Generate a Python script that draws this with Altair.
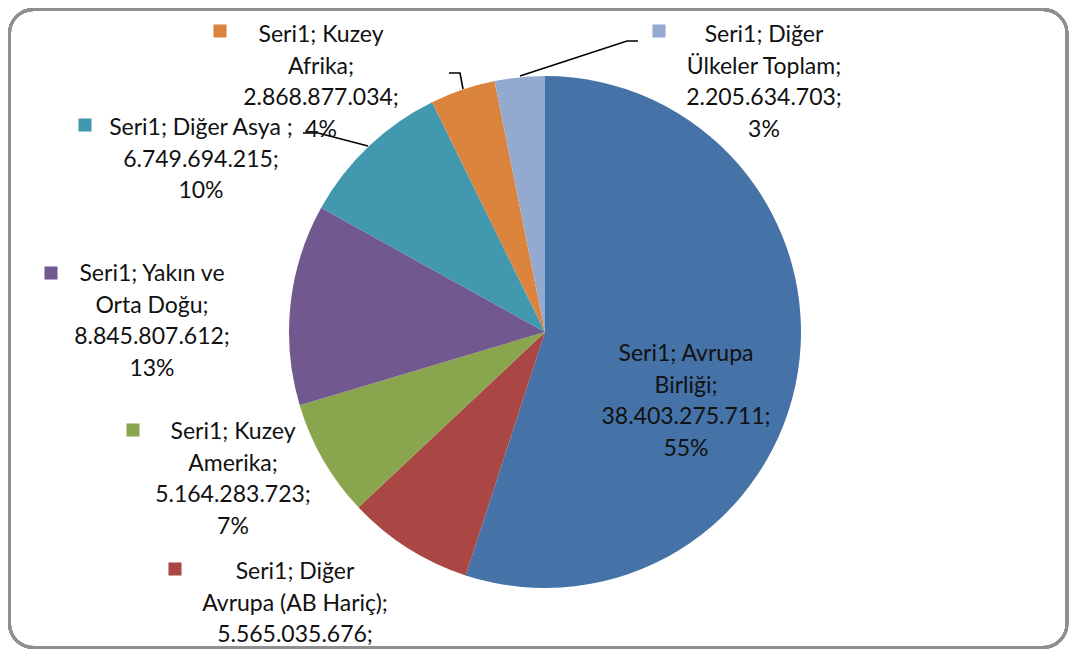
import altair as alt
import pandas as pd

# ---- data ----
regions = ["Avrupa Birliği", "Diğer Avrupa (AB Hariç)", "Kuzey Amerika",
           "Yakın ve Orta Doğu", "Diğer Asya ", "Kuzey Afrika", "Diğer Ülkeler Toplam"]
values = [38403275711, 5565035676, 5164283723, 8845807612, 6749694215, 2868877034, 2205634703]
percents = ["55%", "8%", "7%", "13%", "10%", "4%", "3%"]
colors = ["#4572A7", "#AA4643", "#89A54E", "#71588F", "#4198AF", "#DB843D", "#93A9CF"]
series_name = "Seri1"
# how the category part of each label wraps in the picture
name_lines = [["Seri1; Avrupa", "Birliği;"],
              ["Seri1; Diğer", "Avrupa (AB Hariç);"],
              ["Seri1; Kuzey", "Amerika;"],
              ["Seri1; Yakın ve", "Orta Doğu;"],
              ["Seri1; Diğer Asya ;"],
              ["Seri1; Kuzey", "Afrika;"],
              ["Seri1; Diğer", "Ülkeler Toplam;"]]

# ---- layout (reference pixel coordinates) ----
W, H = 1061, 641
pie_cx, pie_cy, pie_r = 545, 332, 256
label_cx = [686, 295, 233, 152, 201, 321, 764]
label_y0 = [354, 572, 432, 274, 128, 35, 35]
line_step = 31.5
key_pos = [None, (175, 569), (133, 430), (51, 273), (85, 125), (220, 31), (659, 31)]
leaders = {
    "Diğer Ülkeler Toplam": [(520, 76), (627, 41), (638, 41)],
    "Kuzey Afrika": [(463, 89), (460, 73), (449, 73)],
    "Diğer Asya ": [(368, 146), (318, 133), (303, 133)],
}

def fmt(v):
    return f"{v:,}".replace(",", ".")

pie_df = pd.DataFrame({"region": regions, "value": values, "idx": list(range(len(regions)))})

rows = []
for i, r in enumerate(regions):
    lines = name_lines[i] + [fmt(values[i]) + ";", percents[i]]
    for j, t in enumerate(lines):
        rows.append({"region": r, "text": t, "x": label_cx[i], "y": label_y0[i] + j * line_step})
text_df = pd.DataFrame(rows)

key_df = pd.DataFrame([{"region": r, "x": key_pos[i][0], "y": key_pos[i][1]}
                       for i, r in enumerate(regions) if key_pos[i] is not None])

lead_rows = []
for r, pts in leaders.items():
    for k, (px, py) in enumerate(pts):
        lead_rows.append({"region": r, "k": k, "x": px, "y": py})
lead_df = pd.DataFrame(lead_rows)

xs = alt.Scale(domain=[8, 8 + W], range=[0, W])
ys = alt.Scale(domain=[8, 8 + H], range=[0, H])
cs = alt.Scale(domain=regions, range=colors)

pie = alt.Chart(pie_df).mark_arc(radius=pie_r).encode(
    theta=alt.Theta("value:Q", stack=True),
    order=alt.Order("idx:Q"),
    color=alt.Color("region:N", scale=cs, legend=None),
    x=alt.value(pie_cx - 8),
    y=alt.value(pie_cy - 8),
)

leader = alt.Chart(lead_df).mark_line(color="#000000", strokeWidth=1.6).encode(
    x=alt.X("x:Q", scale=xs, axis=None),
    y=alt.Y("y:Q", scale=ys, axis=None),
    detail="region:N",
    order="k:Q",
)

keys = alt.Chart(key_df).mark_square(size=170, opacity=1).encode(
    x=alt.X("x:Q", scale=xs, axis=None),
    y=alt.Y("y:Q", scale=ys, axis=None),
    color=alt.Color("region:N", scale=cs, legend=None),
)

texts = alt.Chart(text_df).mark_text(font="Lato", fontSize=23, color="#111111",
                                      align="center", baseline="middle").encode(
    x=alt.X("x:Q", scale=xs, axis=None),
    y=alt.Y("y:Q", scale=ys, axis=None),
    text="text:N",
)

border = alt.Chart(pie_df).mark_rect(cornerRadius=24, fillOpacity=0, stroke="#8f8f8f",
                                     strokeWidth=2.8).encode(
    x=alt.value(1.5), x2=alt.value(W - 2), y=alt.value(1.5), y2=alt.value(H - 1.5),
)

chart = alt.layer(pie, leader, keys, texts, border).properties(
    width=W, height=H,
    autosize=alt.AutoSizeParams(type="none"),
    padding=0,
    background="#ffffff",
).configure_view(stroke=None)

chart.save("out.html", embed_options={"renderer": "svg", "actions": False})
